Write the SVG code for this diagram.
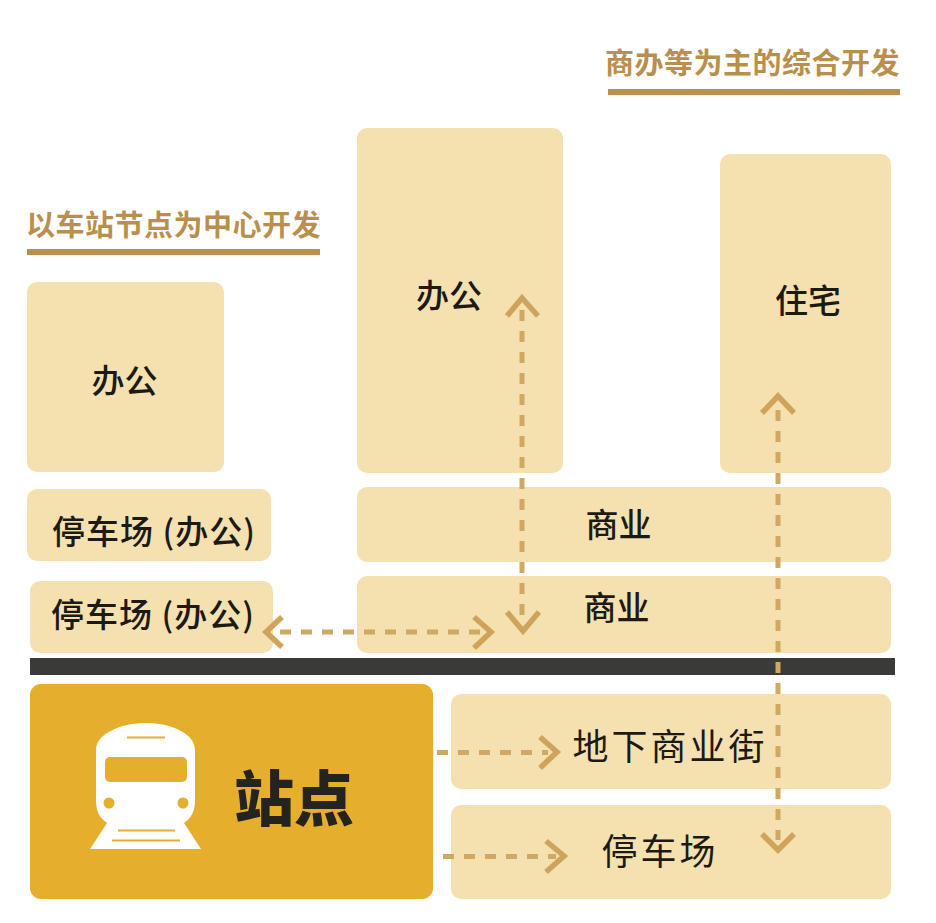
<svg xmlns="http://www.w3.org/2000/svg" width="936" height="923" viewBox="0 0 936 923">
<style>
.box{fill:#f5e1b0}
text{font-family:"Noto Sans CJK SC","Noto Sans",sans-serif;fill:#1d1a14;font-weight:500;text-anchor:middle}
.l{font-size:33px}
.b{font-size:36px;font-weight:400}
.h{font-size:29px;fill:#b98f4e;font-weight:700}
.d{fill:none;stroke:#cfa863;stroke-width:5;stroke-dasharray:11 10}
.a{fill:none;stroke:#cfa45a;stroke-width:5.500}
.u{fill:#b9904f}
</style>
<rect width="936" height="923" fill="#fff"/>
<g id="title-right"><text class="h" x="752.500" y="74" letter-spacing="0.5">商办等为主的综合开发</text><rect class="u" x="608" y="89" width="292" height="6"/></g>
<g id="title-left"><text class="h" x="173.500" y="236" letter-spacing="0.5">以车站节点为中心开发</text><rect class="u" x="27" y="249" width="293" height="6"/></g>
<g id="office-left"><rect class="box" x="27" y="282" width="197" height="190" rx="10"/><text class="l" x="124.500" y="393">办公</text></g>
<g id="parking-office-1"><rect class="box" x="27" y="489" width="244" height="72" rx="10"/><text class="l" x="154" y="544" letter-spacing="1">停车场 (办公)</text></g>
<g id="parking-office-2"><rect class="box" x="30" y="581" width="243" height="72" rx="10"/><text class="l" x="153" y="627" letter-spacing="1">停车场 (办公)</text></g>
<g id="office-center"><rect class="box" x="357" y="128" width="206" height="345" rx="10"/><text class="l" x="449" y="308">办公</text></g>
<g id="residence"><rect class="box" x="720" y="154" width="171" height="319" rx="10"/><text class="l" x="808" y="313">住宅</text></g>
<g id="retail-1"><rect class="box" x="357" y="487" width="534" height="75" rx="10"/><text class="l" x="618.500" y="537">商业</text></g>
<g id="retail-2"><rect class="box" x="357" y="576" width="534" height="77" rx="10"/><text class="l" x="616.500" y="620">商业</text></g>
<g id="divider"><rect x="30" y="658" width="865" height="17" fill="#3a3a38"/></g>
<g id="station"><rect x="30" y="684" width="403" height="215" rx="11" fill="#e5ae2d"/>
<path fill="#fff" d="M146 723C170 723 195 733 195 750V800C195 812 191 818 184 823L201 849H90L107 823C100 818 96 812 96 800V750C96 733 122 723 146 723Z"/>
<rect x="105" y="757" width="82" height="25" rx="5" fill="#e5ae2d"/>
<circle cx="109" cy="803" r="5.5" fill="#e5ae2d"/><circle cx="183" cy="803" r="5.5" fill="#e5ae2d"/>
<path d="M127 737.500H165M118 830.500H175M112 840.500H180" stroke="#e5ae2d" stroke-width="2" fill="none"/>
<text x="294" y="821" font-size="60" style="font-weight:900;fill:#25231d">站点</text></g>
<g id="underground-street"><rect class="box" x="451" y="694" width="440" height="95" rx="10"/><text class="b" x="670" y="760" letter-spacing="3">地下商业街</text></g>
<g id="parking"><rect class="box" x="451" y="805" width="440" height="94" rx="10"/><text class="b" x="660" y="865" letter-spacing="3">停车场</text></g>
<g id="connectors">
<path class="d" d="M522 310V620"/><path class="a" d="M507 316L522 298L538 316M507 612L523 631L539 612"/>
<path class="d" d="M778 410V840"/><path class="a" d="M762 413L778 396L794 413M762 834L778 850L794 834"/>
<path class="d" d="M280 632H484"/><path class="a" d="M282 617L266 632L282 647M474 617L491 632L474 648"/>
<path class="d" d="M437 752.500H548"/><path class="a" d="M540 737L557 752L540 768"/>
<path class="d" d="M443 856.500H556"/><path class="a" d="M546 841L564 856L546 872"/>
</g>
</svg>
